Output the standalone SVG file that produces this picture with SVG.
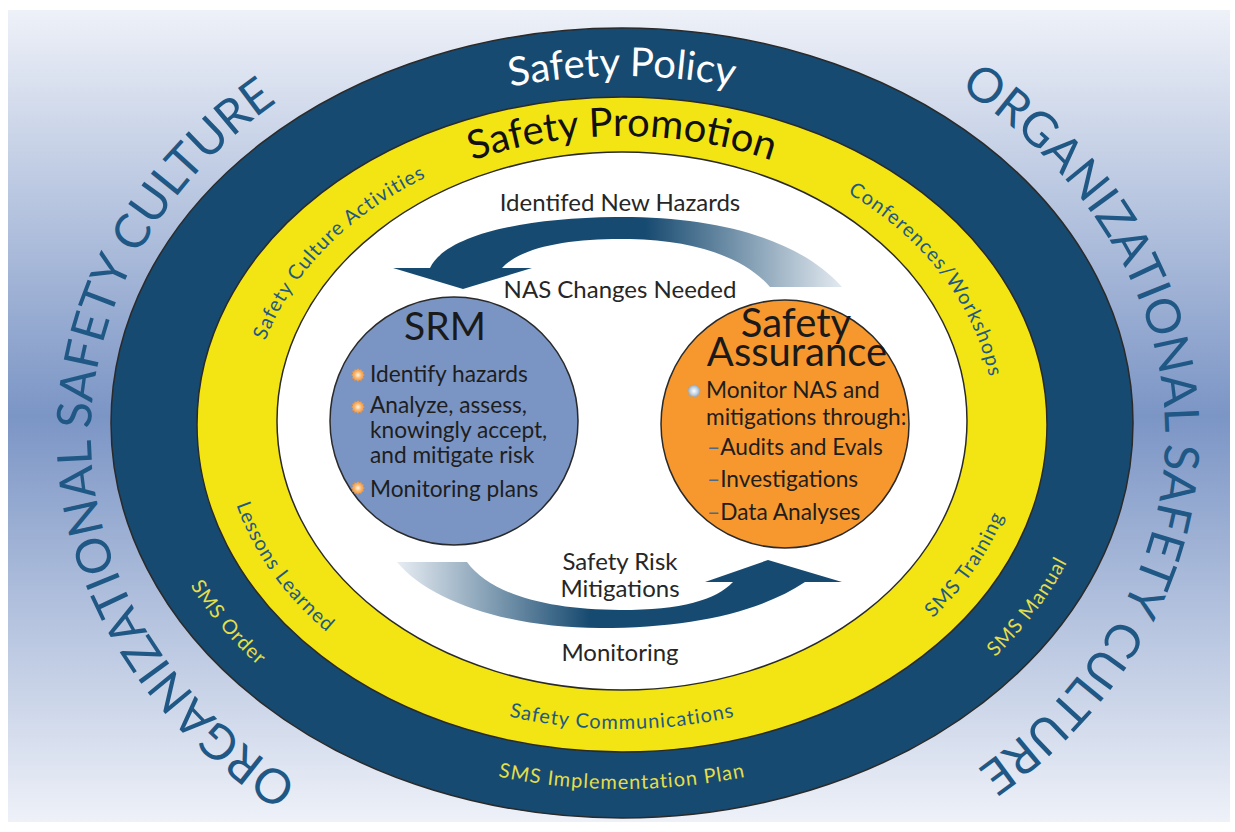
<svg xmlns="http://www.w3.org/2000/svg" width="1235" height="832" viewBox="0 0 1235 832">
<defs>
<style>
.f{font-family:Lato,"Open Sans","Liberation Sans",sans-serif}
.outer{fill:#1f5785;font-size:48px}
.ytxt{fill:#1d5a82;font-size:20px;letter-spacing:1px}
.ntxt{fill:#e4dd4c;font-size:20px;letter-spacing:1px}
.lbl{fill:#262626;font-size:24px;text-anchor:middle}
.bul{fill:#1e1e1e;font-size:22.7px}
.ring{stroke:#2a2a2a;stroke-width:1.5}
</style>
<linearGradient id="bgGrad" x1="0" y1="0" x2="0" y2="1">
<stop offset="0" stop-color="#eef1f8"/>
<stop offset="0.5" stop-color="#7b95c5"/>
<stop offset="1" stop-color="#eef1f8"/>
</linearGradient>
<linearGradient id="gTop" gradientUnits="userSpaceOnUse" x1="845" y1="0" x2="645" y2="0">
<stop offset="0" stop-color="#e6ecf2"/>
<stop offset="1" stop-color="#174a70"/>
</linearGradient>
<linearGradient id="gBot" gradientUnits="userSpaceOnUse" x1="398" y1="0" x2="590" y2="0">
<stop offset="0" stop-color="#e6ecf2"/>
<stop offset="1" stop-color="#174a70"/>
</linearGradient>
<radialGradient id="gStarO">
<stop offset="0" stop-color="#fff6e6"/>
<stop offset="0.5" stop-color="#f9b46a"/>
<stop offset="1" stop-color="#ee8a2c"/>
</radialGradient>
<radialGradient id="gStarB">
<stop offset="0" stop-color="#ffffff"/>
<stop offset="0.5" stop-color="#c4d4e4"/>
<stop offset="1" stop-color="#7f9cbc"/>
</radialGradient>
<polygon id="star" points="7,0 5.02,1.35 6.06,3.5 3.68,3.68 3.5,6.06 1.35,5.02 0,7 -1.35,5.02 -3.5,6.06 -3.68,3.68 -6.06,3.5 -5.02,1.35 -7,0 -5.02,-1.35 -6.06,-3.5 -3.68,-3.68 -3.5,-6.06 -1.35,-5.02 0,-7 1.35,-5.02 3.5,-6.06 3.68,-3.68 6.06,-3.5 5.02,-1.35"/>
<path id="pOutL" d="M298.1,782.2 A537,440 0 0 1 277.1,101.9"/>
<path id="pOutR" d="M963.7,91.6 A537,440 0 0 1 981.0,766.6"/>
<path id="pPolicy" d="M397,122.5 A450,347 0 0 1 847,122.5"/>
<path id="pPromo" d="M409.8,187.9 A370,287 0 0 1 834.2,187.9"/>
<path id="pSCA" d="M252.0,392.8 A372,289 0 0 1 476.7,157.0"/>
<path id="pConf" d="M802.4,170.2 A372,289 0 0 1 993.9,428.0"/>
<path id="pLess" d="M225.9,466.2 A400,310 0 0 0 359.6,657.0"/>
<path id="pTrain" d="M899.9,646.0 A400,310 0 0 0 1016.5,474.2"/>
<path id="pComm" d="M422,688 A400,306 0 0 0 822,688"/>
<path id="pOrder" d="M165.5,538.0 A480,372 0 0 0 300.8,699.4"/>
<path id="pManual" d="M978.7,671.9 A480,372 0 0 0 1076.9,541.7"/>
<path id="pImpl" d="M419.1,754.7 A480,366 0 0 0 824.9,754.7"/>
</defs>

<rect x="0" y="0" width="1235" height="832" fill="#ffffff"/>
<rect x="8" y="10" width="1222" height="812" fill="url(#bgGrad)"/>

<g id="outer-culture" class="f outer">
<text><textPath href="#pOutL" startOffset="50%" text-anchor="middle">ORGANIZATIONAL SAFETY CULTURE</textPath></text>
<text><textPath href="#pOutR" startOffset="50%" text-anchor="middle">ORGANIZATIONAL SAFETY CULTURE</textPath></text>
</g>

<g id="ring-policy">
<ellipse class="ring" cx="622" cy="423" rx="511" ry="395" fill="#174a70"/>
<text class="f" fill="#ffffff" font-size="40"><textPath href="#pPolicy" startOffset="50%" text-anchor="middle">Safety Policy</textPath></text>
<g class="f ntxt">
<text><textPath href="#pOrder" startOffset="50%" text-anchor="middle">SMS Order</textPath></text>
<text><textPath href="#pManual" startOffset="50%" text-anchor="middle">SMS Manual</textPath></text>
<text><textPath href="#pImpl" startOffset="50%" text-anchor="middle">SMS Implementation Plan</textPath></text>
</g>
</g>

<g id="ring-promotion">
<ellipse class="ring" cx="622" cy="424.5" rx="425" ry="327.5" fill="#f3e414"/>
<text class="f" fill="#111" font-size="40"><textPath href="#pPromo" startOffset="50%" text-anchor="middle">Safety Promotion</textPath></text>
<g class="f ytxt">
<text><textPath href="#pSCA" startOffset="50%" text-anchor="middle">Safety Culture Activities</textPath></text>
<text><textPath href="#pConf" startOffset="50%" text-anchor="middle">Conferences/Workshops</textPath></text>
<text><textPath href="#pLess" startOffset="50%" text-anchor="middle">Lessons Learned</textPath></text>
<text><textPath href="#pTrain" startOffset="50%" text-anchor="middle">SMS Training</textPath></text>
<text><textPath href="#pComm" startOffset="50%" text-anchor="middle">Safety Communications</textPath></text>
</g>
</g>

<g id="inner-field">
<ellipse class="ring" cx="622" cy="421" rx="345" ry="269" fill="#ffffff"/>
</g>

<g id="connectors">
<path id="arrow-top" fill="url(#gTop)" d="M463,289 L393,268 L430,268 C445,236 520,218 615,217 C720,216 800,240 842,287 L770,287 C745,258 695,240 630,239 C572,238 522,246 502,268 L532,268 Z"/>
<path id="arrow-bottom" fill="url(#gBot)" d="M397,562 L467,562 C490,594 548,610 620,610 C682,610 716,600 733,582 L705,582 L768,560 L842,582 L805,582 C760,612 690,628 600,628 C510,628 430,602 397,562 Z"/>
</g>

<g id="flow-labels" class="f lbl">
<text x="620" y="211">Identifed New Hazards</text>
<text x="620" y="298">NAS Changes Needed</text>
<text x="620" y="570">Safety Risk</text>
<text x="620" y="597">Mitigations</text>
<text x="620" y="661">Monitoring</text>
</g>

<g id="node-srm">
<circle class="ring" cx="454" cy="421" r="124" fill="#7a95c4"/>
<text class="f" x="445" y="340" fill="#1a1a1a" font-size="39" text-anchor="middle">SRM</text>
<use href="#star" x="358" y="375" fill="url(#gStarO)"/>
<use href="#star" x="358" y="407" fill="url(#gStarO)"/>
<use href="#star" x="358" y="488" fill="url(#gStarO)"/>
<g class="f bul">
<text x="370" y="382">Identify hazards</text>
<text x="370" y="413">Analyze, assess,</text>
<text x="370" y="438">knowingly accept,</text>
<text x="370" y="463">and mitigate risk</text>
<text x="370" y="497">Monitoring plans</text>
</g>
</g>

<g id="node-sa">
<circle class="ring" cx="785" cy="424" r="124" fill="#f7982f"/>
<text class="f" x="796" y="337" fill="#1a1a1a" font-size="40" text-anchor="middle">Safety</text>
<text class="f" x="797" y="366" fill="#1a1a1a" font-size="40" text-anchor="middle">Assurance</text>
<use href="#star" x="694" y="391" fill="url(#gStarB)"/>
<g class="f bul">
<text x="706" y="398">Monitor NAS and</text>
<text x="706" y="425">mitigations through:</text>
<text x="707" y="455"><tspan fill="#4d6a8c">–</tspan>Audits and Evals</text>
<text x="707" y="487"><tspan fill="#4d6a8c">–</tspan>Investigations</text>
<text x="707" y="520"><tspan fill="#4d6a8c">–</tspan>Data Analyses</text>
</g>
</g>
</svg>
